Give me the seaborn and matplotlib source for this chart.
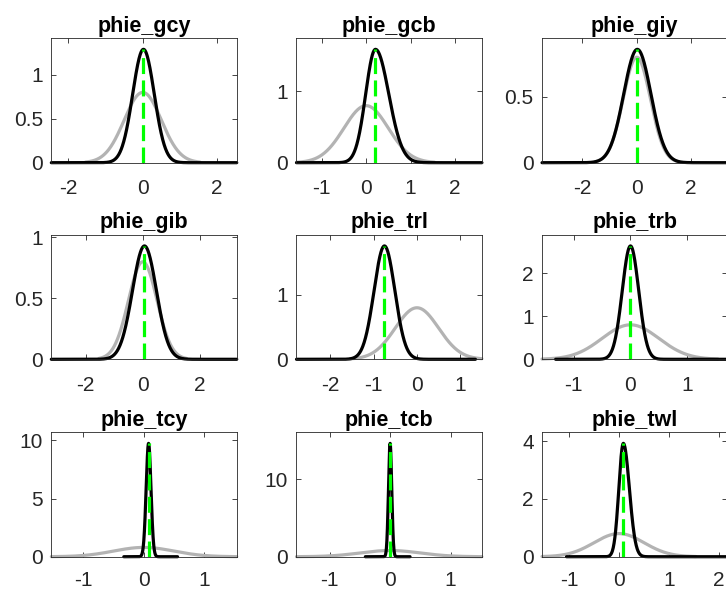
import numpy as np
import matplotlib
matplotlib.use("Agg")
import matplotlib.pyplot as plt
import seaborn as sns

# ---------------- data ----------------
names = ["phie_gcy", "phie_gcb", "phie_giy",
         "phie_gib", "phie_trl", "phie_trb",
         "phie_tcy", "phie_tcb", "phie_twl"]

# prior (grey) curves: centre, peak height, width, x-range
prior_mean = [0.0, 0.0, 0.0, 0.0, 0.0, 0.0, 0.0, 0.0, 0.0]
prior_peak = [0.80, 0.80, 0.80, 0.80, 0.80, 0.80, 0.80, 0.80, 0.80]
prior_sd = [0.5, 0.5, 0.5, 0.5, 0.5, 0.5, 0.5, 0.5, 0.5]
prior_lo = [-1.54, -1.57, -1.54, -1.54, -1.54, -1.56, -1.53, -1.55, -1.54]
prior_hi = [1.54, 1.54, 1.54, 1.54, 1.50, 1.54, 1.54, 1.52, 1.54]

# posterior (black) curves: mode, peak height, left/right widths, x-range
post_mode = [0.02, 0.21, 0.02, 0.06, -0.75, 0.0, 0.08, 0.0, 0.087]
post_peak = [1.29, 1.59, 0.86, 0.93, 1.76, 2.63, 9.75, 14.6, 3.92]
post_sd_left = [0.29, 0.22, 0.50, 0.42, 0.24, 0.145, 0.040, 0.027, 0.09]
post_sd_right = [0.29, 0.30, 0.50, 0.42, 0.24, 0.145, 0.040, 0.027, 0.12]
post_lo = [-2.46, -1.57, -3.48, -3.21, -2.78, -1.32, -0.33, -0.41, -1.05]
post_hi = [2.53, 2.61, 3.33, 3.30, 1.35, 1.71, 0.56, 0.33, 2.17]

# tick labels
xticks = [["-2", "0", "2"], ["-1", "0", "1", "2"], ["-2", "0", "2"],
          ["-2", "0", "2"], ["-2", "-1", "0", "1"], ["-1", "0", "1"],
          ["-1", "0", "1"], ["-1", "0", "1"], ["-1", "0", "1", "2"]]
yticks = [["0", "0.5", "1"], ["0", "1"], ["0", "0.5"],
          ["0", "0.5", "1"], ["0", "1"], ["0", "1", "2"],
          ["0", "5", "10"], ["0", "10"], ["0", "2", "4"]]

# ---------------- style ----------------
sns.set_theme(style="ticks")
plt.rcParams['font.family'] = ['Liberation Sans', 'DejaVu Sans']
plt.rcParams['axes.unicode_minus'] = False

GREY = (0.7, 0.7, 0.7)
AXC = (0.15, 0.15, 0.15)
LW = 2.3

fig = plt.figure(figsize=(7.26, 5.92), dpi=100)
lefts = [0.0707, 0.4084, 0.7466]
bottoms = [0.7252, 0.3931, 0.0596]
W, H = 0.2554, 0.2106

for i, name in enumerate(names):
    r, c = divmod(i, 3)
    ax = fig.add_axes([lefts[c], bottoms[r], W, H])

    xp = np.linspace(prior_lo[i], prior_hi[i], 400)
    yp = prior_peak[i] * np.exp(-0.5 * ((xp - prior_mean[i]) / prior_sd[i]) ** 2)
    sns.lineplot(x=xp, y=yp, ax=ax, color=GREY, linewidth=LW,
                 estimator=None, sort=False, clip_on=False)

    xq = np.linspace(post_lo[i], post_hi[i], 800)
    sd = np.where(xq < post_mode[i], post_sd_left[i], post_sd_right[i])
    yq = post_peak[i] * np.exp(-0.5 * ((xq - post_mode[i]) / sd) ** 2)
    sns.lineplot(x=xq, y=yq, ax=ax, color="black", linewidth=LW,
                 estimator=None, sort=False, clip_on=False)

    sns.lineplot(x=[post_mode[i], post_mode[i]], y=[0, post_peak[i]], ax=ax,
                 color=(0, 1, 0), linewidth=LW, linestyle=(0, (5.0, 2.0)),
                 estimator=None, sort=False)

    ax.set_xlim(min(prior_lo[i], post_lo[i]), max(prior_hi[i], post_hi[i]))
    ax.set_ylim(0, 1.1 * max(post_peak[i], prior_peak[i]))
    ax.set_xticks([float(t) for t in xticks[i]])
    ax.set_xticklabels(xticks[i])
    ax.set_yticks([float(t) for t in yticks[i]])
    ax.set_yticklabels(yticks[i])
    ax.set_xlabel("")
    ax.set_ylabel("")
    ax.tick_params(axis="both", which="both", direction="in", top=True, right=True,
                   length=3.5, width=0.6, color=AXC, labelcolor=AXC, labelsize=15)
    ax.tick_params(axis="x", pad=10 if r == 2 else 12)
    ax.tick_params(axis="y", pad=6)
    for s in ax.spines.values():
        s.set_visible(True)
        s.set_color(AXC)
        s.set_linewidth(0.6)
    ax.set_title(name, fontsize=15.5, fontweight="bold", color="black", pad=4.5)

fig.savefig("out.png", dpi=100)
